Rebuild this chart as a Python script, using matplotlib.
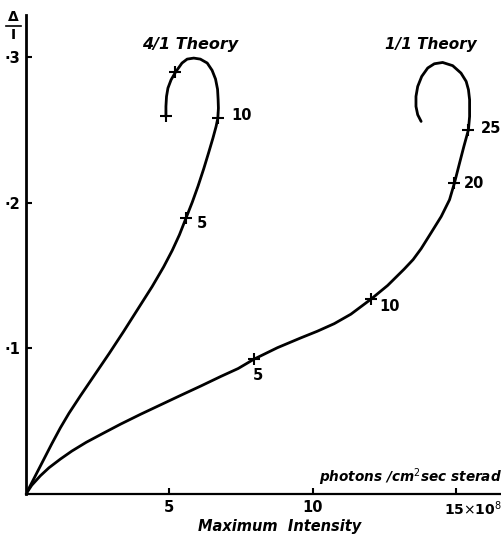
import matplotlib
matplotlib.use("Agg")
import matplotlib.pyplot as plt

# ---- data ----
# 4/1 Theory curve: (Maximum intensity [1e8 photons/cm^2 sec sterad], Delta/I)
x_41 = [0.0, 0.3, 0.6, 0.9, 1.2, 1.5, 1.9, 2.4, 2.9, 3.4, 3.9, 4.4,
        4.8, 5.1, 5.35, 5.58, 5.8, 6.0, 6.2, 6.37, 6.52, 6.63, 6.69, 6.71,
        6.70, 6.68, 6.61, 6.49, 6.32, 6.08, 5.85, 5.62, 5.44, 5.21, 5.06,
        4.95, 4.90, 4.88, 4.88]
y_41 = [0.0, 0.0115, 0.023, 0.0345, 0.0455, 0.0555, 0.0675, 0.082, 0.0965, 0.1115, 0.127, 0.1425,
        0.156, 0.1673, 0.178, 0.1895, 0.2005, 0.2115, 0.2235, 0.2345, 0.2445, 0.2525, 0.2582, 0.265,
        0.271, 0.278, 0.285, 0.291, 0.296, 0.2987, 0.2994, 0.2987, 0.296, 0.2896, 0.2845,
        0.2788, 0.273, 0.2662, 0.2593]
# time markers on 4/1 curve
mx_41 = [5.58, 6.69, 5.21, 4.88]
my_41 = [0.1895, 0.2582, 0.2896, 0.2593]
ml_41 = ["5", "10", "", ""]

# 1/1 Theory curve
x_11 = [0.0, 0.2, 0.5, 0.8, 1.2, 1.6, 2.1, 2.7, 3.3, 4.0, 4.7, 5.4,
        6.1, 6.8, 7.4, 7.95, 8.77, 9.58, 10.16, 10.75, 11.33, 12.03, 12.61,
        13.19, 13.5, 13.78, 14.13, 14.48, 14.77, 14.94, 15.12, 15.27, 15.43,
        15.47, 15.47, 15.43, 15.35, 15.17, 14.88, 14.53, 14.24, 14.01, 13.80,
        13.66, 13.60, 13.60, 13.66, 13.78]
y_11 = [0.0, 0.006, 0.0125, 0.018, 0.024, 0.0295, 0.0355, 0.0418, 0.048, 0.0548, 0.0613, 0.0678,
        0.0742, 0.0808, 0.0862, 0.0926, 0.1005, 0.1072, 0.1118, 0.117, 0.1235, 0.1338, 0.1432,
        0.1545, 0.161, 0.1685, 0.1795, 0.1906, 0.2021, 0.2135, 0.2273, 0.2387, 0.2502,
        0.2593, 0.2708, 0.2777, 0.2834, 0.2891, 0.2942, 0.2964, 0.2955, 0.2926, 0.2868,
        0.2799, 0.2731, 0.2662, 0.2605, 0.2559]
mx_11 = [7.95, 12.03, 14.94, 15.43]
my_11 = [0.0926, 0.1338, 0.2135, 0.2502]
ml_11 = ["5", "10", "20", "25"]

xticks = [5, 10, 15]
xticklabels = ["5", "10", ""]
yticks = [0.1, 0.2, 0.3]
yticklabels = ["·1", "·2", "·3"]

plt.rcParams["font.family"] = ["DejaVu Sans"]

fig = plt.figure(figsize=(5.02, 5.42), dpi=100)
ax = fig.add_axes([26 / 502, 48 / 542, 476 / 502, 479 / 542])
ax.set_xlim(0, 16.6)
ax.set_ylim(0, 0.329)

lw = 2.0
for xs, ys in ((x_41, y_41), (x_11, y_11)):
    ax.plot(xs, ys, color="black", lw=lw, solid_capstyle="round",
            solid_joinstyle="round")
ax.plot(mx_41, my_41, ls="none", marker="+", ms=8, mew=1.5, color="black")
ax.plot(mx_11, my_11, ls="none", marker="+", ms=8, mew=1.5, color="black")

fs = 10.5
offs_41 = [(8, -4), (10, 2), (0, 0), (0, 0)]
for x, y, t, o in zip(mx_41, my_41, ml_41, offs_41):
    if t:
        ax.annotate(t, (x, y), xytext=o, textcoords="offset points",
                    fontsize=fs, fontweight="bold", va="center", ha="left")
offs_11 = [(-1, -12), (6, -5), (7, 0), (9, 1)]
for x, y, t, o in zip(mx_11, my_11, ml_11, offs_11):
    ax.annotate(t, (x, y), xytext=o, textcoords="offset points",
                fontsize=fs, fontweight="bold", va="center", ha="left")

ax.text(5.73, 0.3086, "4/1 Theory", fontsize=11.5, fontweight="bold", style="italic",
        ha="center", va="center")
ax.text(14.13, 0.3086, "1/1 Theory", fontsize=11, fontweight="bold", style="italic",
        ha="center", va="center")

# spines and ticks
for s in ["top", "right"]:
    ax.spines[s].set_visible(False)
ax.spines["left"].set_linewidth(2.0)
ax.spines["bottom"].set_linewidth(1.6)

ax.set_xticks(xticks)
ax.set_xticklabels(xticklabels)
ax.set_yticks(yticks)
ax.set_yticklabels(yticklabels)
ax.tick_params(axis="both", direction="in", length=4, width=1.5, labelsize=fs)
ax.tick_params(axis="x", pad=4)
ax.tick_params(axis="y", pad=4)
for lab in ax.get_xticklabels() + ax.get_yticklabels():
    lab.set_fontweight("bold")

# the 15 x 10^8 label
ax.text(1.0, -0.012, r"15$\times$10$^{8}$", transform=ax.transAxes,
        fontsize=10, fontweight="bold", ha="right", va="top")

ax.text(1.0, 0.012, r"photons /cm$^{2}$sec sterad", transform=ax.transAxes,
        fontsize=9.8, fontweight="bold", style="italic", ha="right", va="bottom")

fig.text(280 / 502, 1 - 527 / 542, "Maximum  Intensity", fontsize=10.5,
         fontweight="bold", style="italic", ha="center", va="center")

# Delta / I axis label (stacked fraction)
fig.text(13 / 502, 1 - 17 / 542, "Δ", fontsize=10, fontweight="bold",
         ha="center", va="center")
fig.text(13 / 502, 1 - 35 / 542, "I", fontsize=10, fontweight="bold",
         ha="center", va="center")
fig.add_artist(plt.Line2D([6 / 502, 21 / 542 * 542 / 502], [1 - 26 / 542, 1 - 26 / 542],
                          color="black", lw=1.2, transform=fig.transFigure))

fig.savefig("out.png", dpi=100, facecolor="white")
